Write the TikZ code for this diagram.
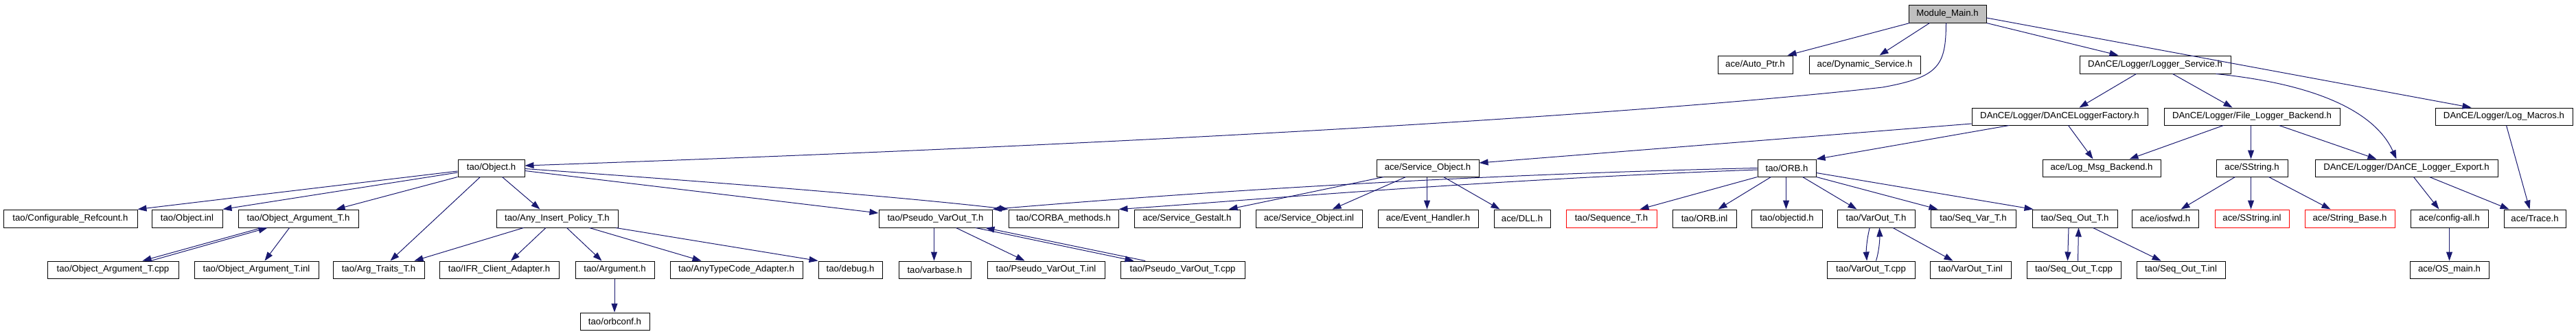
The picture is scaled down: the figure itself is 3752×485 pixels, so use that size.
\documentclass[tikz,border=0pt]{standalone}
\usepackage{fontspec}
\setmainfont{Liberation Sans}
\usetikzlibrary{arrows.meta}
\definecolor{edgec}{HTML}{191970}
\definecolor{maingray}{HTML}{BFBFBF}
\newcommand\nd[7][box]{\node[#1,minimum width={(#4)-(#3)},minimum height={(#6)-(#5)}] (#2) at ({((#3)+(#4))/2},{((#5)+(#6))/2}) {#7};}
\newcommand\ed[4]{\draw[edge] ([xshift=#2pt]#1.south west) -- ([xshift=#4pt]#3.north west);}
\begin{document}
\begin{tikzpicture}[x=1pt,y=-1pt,
  box/.style={draw=black,line width=1pt,rectangle,inner sep=0pt,font=\fontsize{13.2}{14}\selectfont},
  redbox/.style={box,draw=red},
  mainbox/.style={box,fill=maingray},
  edge/.style={draw=edgec,line width=1pt,-{Triangle[length=13pt,width=9pt,fill=edgec]}}]
\useasboundingbox (0,0) rectangle (3752,485);
% row 0-2
\nd[mainbox]{main}{2780}{2893}{7}{33}{Module\_Main.h}
\nd{autoptr}{2502}{2611}{81}{107}{ace/Auto\_Ptr.h}
\nd{dynsvc}{2635}{2797}{81}{107}{ace/Dynamic\_Service.h}
\nd{logsvc}{3029}{3249}{81}{107}{DAnCE/Logger/Logger\_Service.h}
\nd{factory}{2872}{3128}{157}{182}{DAnCE/Logger/DAnCELoggerFactory.h}
\nd{filebk}{3152}{3408}{157}{182}{DAnCE/Logger/File\_Logger\_Backend.h}
\nd{macros}{3547}{3747}{157}{182}{DAnCE/Logger/Log\_Macros.h}
% row 3
\nd{object}{667}{764}{232}{257}{tao/Object.h}
\nd{svcobj}{2005}{2154}{232}{257}{ace/Service\_Object.h}
\nd{orb}{2560}{2645}{232}{257}{tao/ORB.h}
\nd{logmsg}{2975}{3147}{232}{257}{ace/Log\_Msg\_Backend.h}
\nd{sstring}{3228}{3332}{232}{257}{ace/SString.h}
\nd{export}{3372}{3638}{232}{257}{DAnCE/Logger/DAnCE\_Logger\_Export.h}
% row 4
\nd{refcnt}{5}{200}{305}{331}{tao/Configurable\_Refcount.h}
\nd{objinl}{221}{324}{305}{331}{tao/Object.inl}
\nd{objarg}{347}{522}{305}{331}{tao/Object\_Argument\_T.h}
\nd{anyins}{723}{900}{305}{331}{tao/Any\_Insert\_Policy\_T.h}
\nd{pseudo}{1280}{1445}{305}{331}{tao/Pseudo\_VarOut\_T.h}
\nd{corba}{1469}{1629}{305}{331}{tao/CORBA\_methods.h}
\nd{gestalt}{1652}{1806}{305}{331}{ace/Service\_Gestalt.h}
\nd{svcinl}{1829}{1984}{305}{331}{ace/Service\_Object.inl}
\nd{evh}{2007}{2153}{305}{331}{ace/Event\_Handler.h}
\nd{dll}{2176}{2258}{305}{331}{ace/DLL.h}
\nd[redbox]{seqT}{2281}{2413}{305}{331}{tao/Sequence\_T.h}
\nd{orbinl}{2436}{2529}{305}{331}{tao/ORB.inl}
\nd{objid}{2551}{2654}{305}{331}{tao/objectid.h}
\nd{varout}{2676}{2789}{305}{331}{tao/VarOut\_T.h}
\nd{seqvar}{2812}{2936}{305}{331}{tao/Seq\_Var\_T.h}
\nd{seqout}{2960}{3084}{305}{331}{tao/Seq\_Out\_T.h}
\nd{iosfwd}{3105}{3202}{305}{331}{ace/iosfwd.h}
\nd[redbox]{sstrinl}{3226}{3334}{305}{331}{ace/SString.inl}
\nd[redbox]{strbase}{3357}{3488}{305}{331}{ace/String\_Base.h}
\nd{configall}{3511}{3624}{305}{331}{ace/config-all.h}
\nd{trace}{3647}{3737}{305}{331}{ace/Trace.h}
% row 5
\nd{oacpp}{69}{260}{380}{405}{tao/Object\_Argument\_T.cpp}
\nd{oainl}{283}{464}{380}{405}{tao/Object\_Argument\_T.inl}
\nd{argtraits}{485}{618}{380}{405}{tao/Arg\_Traits\_T.h}
\nd{ifr}{640}{814}{380}{405}{tao/IFR\_Client\_Adapter.h}
\nd{argument}{838}{953}{380}{405}{tao/Argument.h}
\nd{anytc}{976}{1169}{380}{405}{tao/AnyTypeCode\_Adapter.h}
\nd{debug}{1192}{1285}{380}{405}{tao/debug.h}
\nd{varbase}{1309}{1414}{380}{405}{tao/varbase.h}
\nd{pvinl}{1438}{1609}{380}{405}{tao/Pseudo\_VarOut\_T.inl}
\nd{pvcpp}{1632}{1813}{380}{405}{tao/Pseudo\_VarOut\_T.cpp}
\nd{vocpp}{2661}{2789}{380}{405}{tao/VarOut\_T.cpp}
\nd{voinl}{2811}{2929}{380}{405}{tao/VarOut\_T.inl}
\nd{socpp}{2952}{3089}{380}{405}{tao/Seq\_Out\_T.cpp}
\nd{soinl}{3112}{3241}{380}{405}{tao/Seq\_Out\_T.inl}
\nd{osmain}{3510}{3625}{380}{405}{ace/OS\_main.h}
% row 6
\nd{orbconf}{845}{946}{455}{480}{tao/orbconf.h}
% edges from Module_Main
\ed{main}{2}{autoptr}{102}
\ed{main}{31}{dynsvc}{103}
\draw[edge] (main.south east) -- ([xshift=57pt]logsvc.north west);
\draw[edge] ([yshift=-6pt]main.east) -- ([xshift=53pt]macros.north west);
\draw[edge] ([xshift=55pt]main.south west) .. controls (2834,95) and (2825,112) .. (2742,127)
  .. controls (2450,160) and (1800,205) .. ([yshift=3.5pt]object.east);
% Logger_Service
\ed{logsvc}{83}{factory}{157}
\ed{logsvc}{136}{filebk}{100}
\draw[edge] ([xshift=199pt]logsvc.south west) .. controls (3400,125) and (3465,175) .. ([xshift=119pt]export.north west);
% factory
\draw[edge] ([yshift=-10.5pt]factory.west) -- ([yshift=7.5pt]svcobj.east);
\draw[edge] ([xshift=55pt]factory.south west) -- (orb.north east);
\ed{factory}{141}{logmsg}{74}
% file logger backend
\ed{filebk}{87}{logmsg}{127}
\ed{filebk}{127}{sstring}{51}
\ed{filebk}{168}{export}{90}
% log macros
\ed{macros}{104}{trace}{38}
% export
\ed{export}{144}{configall}{42}
\ed{export}{167}{trace}{8}
\ed{configall}{57}{osmain}{58}
% SString
\ed{sstring}{28}{iosfwd}{72}
\ed{sstring}{51}{sstrinl}{53}
\ed{sstring}{77}{strbase}{38}
% ORB
\draw[edge] (orb.south west) -- ([xshift=108pt]seqT.north west);
\ed{orb}{20}{orbinl}{67}
\ed{orb}{42}{objid}{51}
\ed{orb}{66}{varout}{29}
\draw[edge] (orb.south east) -- ([xshift=11pt]seqvar.north west);
\draw[edge] ([yshift=-7pt]orb.east) -- ([xshift=2pt]seqout.north west);
\draw[edge] (orb.west) .. controls (2100,255) and (1700,283) .. (pseudo.north east);
\draw[edge] ([yshift=-2.5pt]orb.west) .. controls (2150,262) and (1800,293) .. (corba.north east);
% Object.h
\draw[edge] ([yshift=-4pt]object.east) -- ([yshift=8pt]pseudo.west);
\draw[edge] ([yshift=-1pt]object.east) .. controls (1000,262) and (1300,285) .. (corba.north west);
\draw[edge] ([yshift=-4.5pt]object.west) -- (refcnt.north east);
\draw[edge] ([yshift=-6.5pt]object.west) -- (objinl.north east);
\draw[edge] (object.south west) -- ([xshift=143pt]objarg.north west);
\ed{object}{33}{argtraits}{84}
\ed{object}{65}{anyins}{64}
% Any_Insert_Policy
\ed{anyins}{40}{argtraits}{119}
\ed{anyins}{72.5}{ifr}{104.5}
\ed{anyins}{103}{argument}{39}
\ed{anyins}{136}{anytc}{46}
\draw[edge] ([xshift=174.5pt]anyins.south west) -- (debug.north west);
\ed{argument}{57.5}{orbconf}{50.5}
% Object_Argument_T
\ed{objarg}{34.6}{oacpp}{139}
\draw[edge] ([xshift=151pt]oacpp.north west) -- ([xshift=43pt]objarg.south west);
\ed{objarg}{75}{oainl}{103}
% Pseudo_VarOut_T
\ed{pseudo}{81}{varbase}{52}
\ed{pseudo}{113}{pvinl}{55}
\ed{pseudo}{141.6}{pvcpp}{20}
\draw[edge] ([xshift=36.6pt]pvcpp.north west) -- ([xshift=156pt]pseudo.south west);
% VarOut_T
\draw[edge] ([xshift=47.7pt]varout.south west) .. controls (2719,348) and (2718,365) .. ([xshift=58.6pt]vocpp.north west);
\draw[edge] ([xshift=72pt]vocpp.north west) .. controls (2737,365) and (2738,348) .. ([xshift=62pt]varout.south west);
\ed{varout}{81.6}{voinl}{34}
% Seq_Out_T
\ed{seqout}{53.5}{socpp}{60}
\draw[edge] ([xshift=75pt]socpp.north west) -- ([xshift=68pt]seqout.south west);
\ed{seqout}{89}{soinl}{36}
% Service_Object
\draw[edge] ([xshift=11pt]svcobj.south west) -- ([xshift=138pt]gestalt.north west);
\ed{svcobj}{43}{svcinl}{112}
\ed{svcobj}{74}{evh}{72}
\ed{svcobj}{98}{dll}{9}
\end{tikzpicture}
\end{document}
